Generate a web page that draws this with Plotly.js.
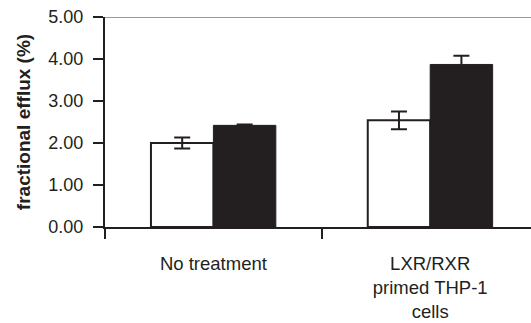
<!DOCTYPE html>
<html>
<head>
<meta charset="utf-8">
<script src="https://cdn.plot.ly/plotly-3.0.1.min.js"></script>
<style>
  html, body { margin: 0; padding: 0; background: #fff; }
  #chart { width: 531px; height: 323px; }
</style>
</head>
<body>
<div id="chart"></div>
<script>
// Fractional cholesterol efflux per condition
const categories = ['No treatment', 'LXR/RXR<br>primed THP-1<br>cells'];
const openValues = [2.00, 2.54];
const openErrors = [0.13, 0.21];
const filledValues = [2.42, 3.87];
const filledErrors = [0.02, 0.21];
const yTicks = [0, 1, 2, 3, 4, 5];

const ink = '#231f20';

const errorStyle = (arr) => ({
  type: 'data', array: arr, visible: true,
  color: ink, thickness: 2, width: 8
});

const traces = [
  {
    type: 'bar', x: categories, y: openValues,
    marker: { color: '#ffffff', line: { color: ink, width: 2 } },
    error_y: errorStyle(openErrors),
    hoverinfo: 'skip'
  },
  {
    type: 'bar', x: categories, y: filledValues,
    marker: { color: ink, line: { color: ink, width: 1 } },
    error_y: errorStyle(filledErrors),
    hoverinfo: 'skip'
  }
];

const layout = {
  width: 531, height: 323,
  margin: { l: 105, r: 0, t: 17, b: 96, pad: 0 },
  paper_bgcolor: '#ffffff', plot_bgcolor: '#ffffff',
  showlegend: false,
  barmode: 'group', bargap: 0.424, bargroupgap: 0,
  font: { family: '"Liberation Sans", Arial, sans-serif', color: ink, size: 18 },
  xaxis: {
    type: 'category',
    range: [-0.5, 1.465],
    tickson: 'boundaries',
    ticks: 'outside', ticklen: 10, tickwidth: 2, tickcolor: ink,
    showline: true, linecolor: ink, linewidth: 2,
    showgrid: false, zeroline: false,
    ticklabelstandoff: 19,
    tickfont: { size: 18.5, color: ink }
  },
  yaxis: {
    range: [0, 5],
    tickvals: yTicks,
    tickformat: '.2f',
    ticks: 'outside', ticklen: 10, tickwidth: 2, tickcolor: ink,
    showline: true, linecolor: ink, linewidth: 2,
    showgrid: false, zeroline: false,
    ticklabelstandoff: 6,
    tickfont: { size: 18, color: ink },
    title: { text: '<b>fractional efflux (%)</b>', font: { size: 19, color: ink }, standoff: 13 }
  },
  shapes: [
    { type: 'line', xref: 'paper', yref: 'y', x0: 0, x1: 1, y0: 5, y1: 5,
      line: { color: '#9a9a9a', width: 2 } }
  ]
};

Plotly.newPlot('chart', traces, layout, { staticPlot: true, displayModeBar: false });
</script>
</body>
</html>
